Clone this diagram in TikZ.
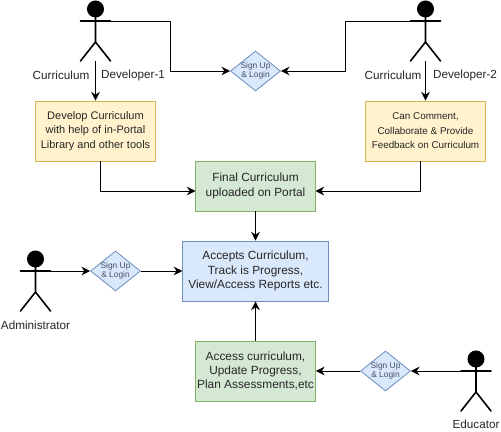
\documentclass[tikz,border=0pt]{standalone}
\usepackage{fontspec}
\setmainfont{Liberation Sans}
\usetikzlibrary{arrows.meta,shapes.geometric}
\definecolor{inktext}{HTML}{262626}
\tikzset{
  every node/.style={text=inktext,inner sep=0pt},
  boxnode/.style={draw,line width=.7pt,minimum height=45pt,minimum width=#1,align=center,font=\fontsize{8.9}{10.8}\selectfont},
  yellowbox/.style={boxnode=90pt,fill={rgb,255:red,255;green,242;blue,204},draw={rgb,255:red,214;green,182;blue,86}},
  greenbox/.style={boxnode=90pt,fill={rgb,255:red,213;green,232;blue,212},draw={rgb,255:red,130;green,179;blue,102}},
  bluebox/.style={boxnode=109pt,fill={rgb,255:red,218;green,232;blue,252},draw={rgb,255:red,108;green,142;blue,191}},
  login/.style={draw={rgb,255:red,108;green,142;blue,191},fill={rgb,255:red,218;green,232;blue,252},line width=.6pt,diamond,minimum width=37.5pt,minimum height=30pt,aspect=1.25},
  logintext/.style={align=center,text={rgb,255:red,70;green,80;blue,100},font=\fontsize{6.3}{6.8}\selectfont},
  namelabel/.style={font=\fontsize{8.8}{10.8}\selectfont},
  wire/.style={line width=.75pt,-{Stealth[length=6.5pt,width=6.5pt]}},
  actor/.pic={
    \draw[line width=1.2pt,line cap=round] (-15,0) -- (15,0) (0,-8) -- (0,21) (-15,40) -- (0,21) -- (15,40);
    \fill (0,-12) circle (6.4pt);
    \coordinate (-armw) at (-15,0);
    \coordinate (-arme) at (15,0);
    \coordinate (-foot) at (0,40);
  }
}
\begin{document}
\begin{tikzpicture}[x=.75pt,y=-.75pt]
  \useasboundingbox (0,0) rectangle (501,432);

  \pic (dev1) at (95.5,21) {actor};
  \pic (dev2) at (425.5,21) {actor};
  \pic (admin) at (35.5,271) {actor};
  \pic (edu) at (476,371) {actor};

  \node[namelabel] (c1) at (61,75) {Curriculum};
  \node[namelabel] (d1) at (133,75) {Developer-1};
  \node[namelabel] (c2) at (393,75) {Curriculum};
  \node[namelabel] (d2) at (465,75) {Developer-2};
  \node[namelabel] (adminlabel) at (35.5,325) {Administrator};
  \node[namelabel] (edulabel) at (476,424) {Educator};

  \node[login] (s0) at (255.5,71) {};
  \node[logintext] at (s0) {Sign Up\\\& Login};
  \node[login] (s1) at (115.5,271) {};
  \node[logintext] at (s1) {Sign Up\\\& Login};
  \node[login] (s2) at (385.5,371) {};
  \node[logintext] at (s2) {Sign Up\\\& Login};

  \node[yellowbox,font=\fontsize{8.25}{10.8}\selectfont] (v0) at (95.5,131) {Develop Curriculum\\with help of in-Portal\\Library and other tools};
  \node[yellowbox,font=\fontsize{7.4}{10.8}\selectfont] (v1) at (425.5,131) {Can Comment,\\Collaborate \& Provide\\Feedback on Curriculum};
  \node[greenbox,minimum height=37.5pt,font=\fontsize{8.9}{11.2}\selectfont] (v2) at (255.5,186) {Final Curriculum\\uploaded on Portal};
  \node[bluebox] (v3) at (255.5,271) {Accepts Curriculum,\\Track is Progress,\\View/Access Reports etc.};
  \node[greenbox] (v4) at (255.5,371) {Access curriculum,\\Update Progress,\\Plan Assessments,etc};

  \draw[wire] (dev1-foot) -- (v0.north -| dev1-foot);
  \draw[wire] (dev2-foot) -- (v1.north -| dev2-foot);
  \draw[wire] (dev1-arme) -- (170.5,21) -- (170.5,71) -- (s0.west);
  \draw[wire] (dev2-armw) -- (345.5,21) -- (345.5,71) -- (s0.east);
  \draw[wire] (100.5,161) -- (100.5,191) -- (195.5,191);
  \draw[wire] (420.5,161) -- (420.5,191) -- (315.5,191);
  \draw[wire] (v2) -- (v3);
  \draw[wire] (v4) -- (v3);
  \draw[wire] (admin-arme) -- (s1.west);
  \draw[wire] (s1.east) -- (v3.west |- s1.east);
  \draw[wire] (edu-armw) -- (s2.east);
  \draw[wire] (s2.west) -- (v4.east |- s2.west);
\end{tikzpicture}
\end{document}
